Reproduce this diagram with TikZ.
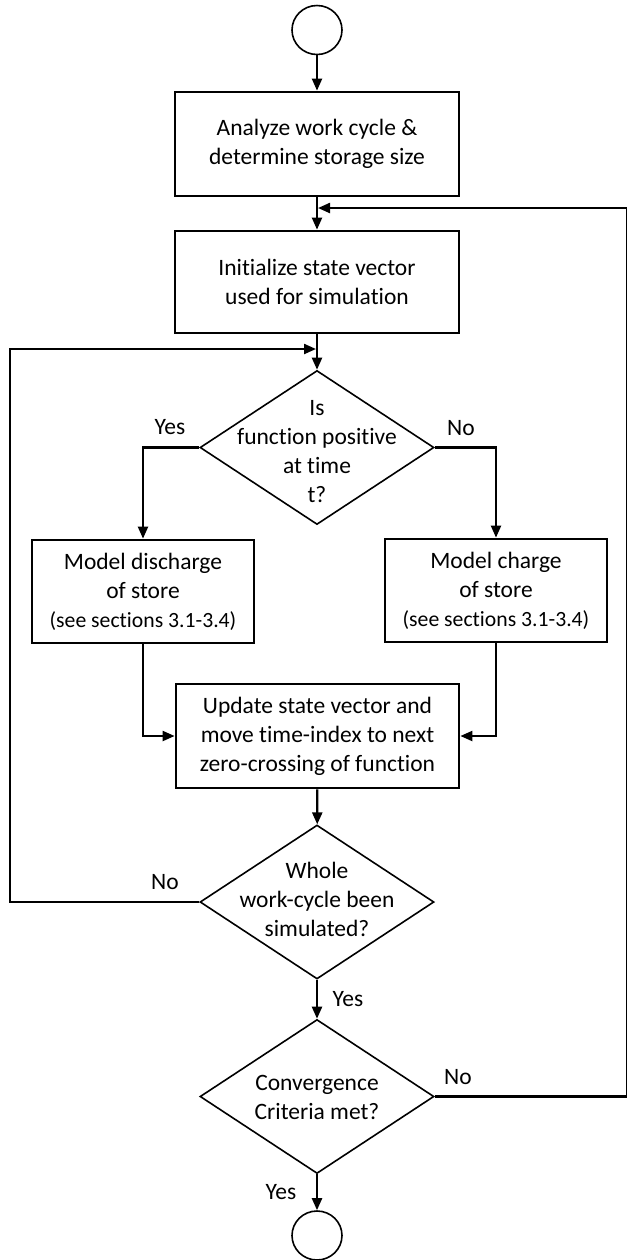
\documentclass[tikz,border=0pt]{standalone}
\usepackage{fontspec}
\setmainfont{Carlito}[Ligatures=NoCommon]
\usetikzlibrary{shapes.geometric,arrows.meta}
\newcommand{\mainfont}{\fontsize{11.75pt}{14.5pt}\selectfont}
\newcommand{\smallerfont}{\fontsize{10.85pt}{14.5pt}\selectfont}
\tikzset{
  boxnode/.style={draw,line width=1.4pt,inner sep=0pt,align=center,font=\mainfont},
  decnode/.style={draw,diamond,line width=0.8pt,inner sep=0pt,minimum width=117pt,minimum height=77pt},
  dectext/.style={align=center,inner sep=0pt,font=\mainfont},
  termnode/.style={draw,ellipse,line width=0.8pt,inner sep=0pt,minimum width=25pt,minimum height=24.5pt},
  conn/.style={line width=1.1pt,-{Triangle[length=6pt,width=5pt]}},
  lbl/.style={inner sep=0pt,font=\mainfont}
}
\begin{document}
\begin{tikzpicture}[x=0.5pt,y=-0.5pt]
\useasboundingbox (0,0) rectangle (627,1260);
% terminals
\node[termnode] (c0) at (317,30) {};
\node[termnode] (c1) at (317,1235.5) {};
% boxes
\node[boxnode,minimum width=142pt,minimum height=52pt] (b1) at (317,144)
  {Analyze work cycle \&\\determine storage size};
\node[boxnode,minimum width=142pt,minimum height=51pt] (b2) at (317,282)
  {Initialize state vector\\used for simulation};
\node[boxnode,minimum width=111pt,minimum height=51.5pt] (b3) at (143,591.5)
  {Model discharge\\of store\\{\smallerfont (see sections 3.1-3.4)}};
\node[boxnode,minimum width=111pt,minimum height=51.5pt] (b4) at (496,590.5)
  {Model charge\\of store\\{\smallerfont (see sections 3.1-3.4)}};
\node[boxnode,minimum width=141.5pt,minimum height=52pt] (b5) at (317.5,736)
  {Update state vector and\\move time-index to next\\zero-crossing of function};
% decisions
\node[decnode] (d1) at (317,447.5) {};
\node[dectext] (d1t) at (317,452) {Is\\function positive\\at time\\t?};
\node[decnode] (d2) at (317,902) {};
\node[dectext] (d2t) at (317,899) {Whole\\work-cycle been\\simulated?};
\node[decnode] (d3) at (317,1096.5) {};
\node[dectext] (d3t) at (317,1097) {Convergence\\Criteria met?};
% labels
\node[lbl] (lyes1) at (170,427) {Yes};
\node[lbl] (lno1) at (461,428) {No};
\node[lbl] (lno2) at (165,882) {No};
\node[lbl] (lyes2) at (348,999) {Yes};
\node[lbl] (lno3) at (458,1077) {No};
\node[lbl] (lyes3) at (281,1192) {Yes};
% helper coordinates
\coordinate (fb) at (318,208);
\coordinate (fbc) at (627,208);
\coordinate (lp) at (316,349);
\coordinate (lpc) at (10,349);
% connectors
\draw[conn] (c0) -- (b1);
\draw[conn] (b1) -- (b2);
\draw[conn] (b2) -- (d1);
\draw[conn] (d1.west) -| (b3.north);
\draw[conn] (d1.east) -| (b4.north);
\draw[conn] (b3.south) |- (b5.west);
\draw[conn] (b4.south) |- (b5.east);
\draw[conn] (b5) -- (d2);
\draw[conn] (d2) -- (d3);
\draw[conn] (d3) -- (c1);
\draw[conn] (d2.west) -| (lpc) -- (lp);
\draw[conn] (d3.east) -| (fbc) -- (fb);
\end{tikzpicture}
\end{document}
